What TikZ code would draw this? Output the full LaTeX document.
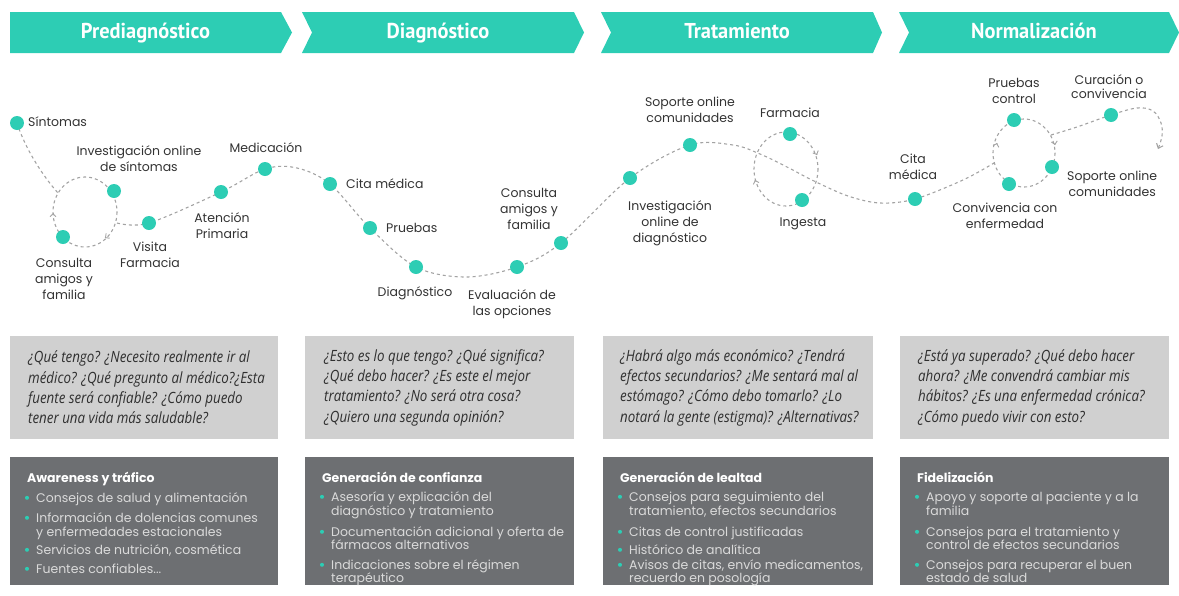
\documentclass[tikz,border=0pt]{standalone}
\usepackage{fontspec}
\setmainfont{Poppins}
\newfontfamily\popp{Poppins}
\newfontfamily\banf[FakeStretch=0.95]{PT Sans}
\newfontfamily\qf[FakeStretch=0.86]{Open Sans}
\usetikzlibrary{arrows.meta}
\definecolor{teal1}{HTML}{2DCDB4}
\definecolor{lbox}{HTML}{D0D0D0}
\definecolor{dbox}{HTML}{6D6F72}
\definecolor{dash1}{HTML}{A3A3A3}
\definecolor{lbl}{HTML}{333333}
\definecolor{qtxt}{HTML}{2F2F2F}
\definecolor{itxt}{HTML}{DADADA}
\pgfdeclarelayer{bg}\pgfsetlayers{bg,main}
\newcommand\bitem[4]{\node[bul] (#1b) at (#2-9,#3-4.2) {};\node[itm] (#1) at (#2,#3) {#4};}
\newcommand\citem[4]{\node[itm] (#1) at (#2,#3) {#4};}
\begin{document}
\begin{tikzpicture}[x=1pt,y=-1pt,
  dot/.style={circle,fill=teal1,minimum size=14pt,inner sep=0pt},
  lab/.style={font=\popp\fontsize{12.5}{16}\selectfont,text=lbl,align=center,inner sep=0pt},
  journey/.style={draw=dash1,line width=1.1pt,dash pattern=on 3pt off 3pt},
  tk/.style={draw=dash1,line width=0.9pt,-{Straight Barb[length=3pt,width=6pt]}},
  bantext/.style={font=\banf\bfseries\fontsize{21.5}{24}\selectfont,text=white,anchor=base,inner sep=0pt},
  qtext/.style={font=\qf\itshape\fontsize{15.5}{20.3}\selectfont,text=qtxt,align=left,anchor=west,inner sep=0pt},
  ttl/.style={font=\popp\bfseries\fontsize{12.5}{14}\selectfont,text=white,anchor=base west,inner sep=0pt},
  itm/.style={font=\popp\fontsize{12.5}{14}\selectfont,text=itxt,anchor=base west,inner sep=0pt},
  bul/.style={circle,fill=teal1,minimum size=4pt,inner sep=0pt}
]
\useasboundingbox (0,0) rectangle (1179,595);
% banners
\fill[teal1] (10,12) -- (281,12) -- (292,32.5) -- (281,53) -- (10,53) -- cycle;
\fill[teal1] (302,12) -- (574,12) -- (584,32.5) -- (574,53) -- (302,53) -- (312,32.5) -- cycle;
\fill[teal1] (601,12) -- (873,12) -- (882,32.5) -- (873,53) -- (601,53) -- (611,32.5) -- cycle;
\fill[teal1] (899,12) -- (1169,12) -- (1179,32.5) -- (1169,53) -- (899,53) -- (909,32.5) -- cycle;
\node[bantext] (b1) at (145.5,38.5) {Prediagnóstico};
\node[bantext] (b2) at (438,38.5) {Diagnóstico};
\node[bantext] (b3) at (737,38.5) {Tratamiento};
\node[bantext] (b4) at (1034,38.5) {Normalización};
% dots
\node[dot] (s1) at (17,123) {};
\node[dot] (s2) at (114,191) {};
\node[dot] (s3) at (63,237) {};
\node[dot] (s4) at (149,223) {};
\node[dot] (s5) at (221,192) {};
\node[dot] (s6) at (265,169) {};
\node[dot] (s7) at (330,184) {};
\node[dot] (s8) at (370,228) {};
\node[dot] (s9) at (416,267) {};
\node[dot] (s10) at (517,267) {};
\node[dot] (s11) at (561,243) {};
\node[dot] (s12) at (630,178) {};
\node[dot] (s13) at (690,145) {};
\node[dot] (s14) at (790,134) {};
\node[dot] (s15) at (802,200) {};
\node[dot] (s16) at (915,199) {};
\node[dot] (s17) at (1014,120) {};
\node[dot] (s18) at (1009,184) {};
\node[dot] (s19) at (1052,167) {};
\node[dot] (s20) at (1111,115) {};
% labels
\node[lab,anchor=west] (l1) at (28,122) {Síntomas};
\node[lab] (l2) at (139,158.5) {Investigación online\\de síntomas};
\node[lab] (l3) at (64,279) {Consulta\\amigos y\\familia};
\node[lab] (l4) at (150,255) {Visita\\Farmacia};
\node[lab] (l5) at (222,225.5) {Atención\\Primaria};
\node[lab] (l6) at (266,148) {Medicación};
\node[lab,anchor=west] (l7) at (346,184) {Cita médica};
\node[lab,anchor=west] (l8) at (386,228) {Pruebas};
\node[lab] (l9) at (415,293) {Diagnóstico};
\node[lab] (l10) at (512,304.5) {Evaluación de\\las opciones};
\node[lab] (l11) at (529,209) {Consulta\\amigos y\\familia};
\node[lab] (l12) at (670,223) {Investigación\\online de\\diagnóstico};
\node[lab] (l13) at (690,110) {Soporte online\\comunidades};
\node[lab] (l14) at (790,113) {Farmacia};
\node[lab] (l15) at (803,224) {Ingesta};
\node[lab] (l16) at (913,167) {Cita\\médica};
\node[lab] (l17) at (1014,91) {Pruebas\\control};
\node[lab] (l18) at (1005,216) {Convivencia con\\enfermedad};
\node[lab,anchor=west] (l19) at (1067,183.5) {Soporte online\\comunidades};
\node[lab,font=\popp\fontsize{12.5}{14}\selectfont] (l20) at (1109,86.5) {Curación o\\convivencia};
% journey path
\begin{pgfonlayer}{bg}
\draw[journey] (s1.center) .. controls (25,148) and (42,175) .. (58,193);
\draw[journey] (85,212) ellipse [x radius=32, y radius=35];
\draw[journey] plot[smooth,tension=0.55] coordinates {(117,223) (s4.center) (s5.center) (s6.center) (297,168) (s7.center) (s8.center) (s9.center) (466,277) (s10.center) (s11.center) (s12.center) (s13.center) (733,145) (760,154) (787,167) (814,181) (848,196) (880,203) (s16.center) (963,180) (994,163)};
\draw[journey] (786,169) ellipse [x radius=32, y radius=37];
\draw[journey] (1024,153) ellipse [x radius=31, y radius=34];
\draw[journey,-{Straight Barb[length=4pt,width=7pt]}] plot[smooth,tension=0.6] coordinates {(1051,135) (1077,127) (s20.center) (1137,108) (1153,111) (1161,123) (1162,136) (1158,149)};
% direction ticks on the loops
\draw[tk] (53,213.1) -- (53,213);
\draw[tk] (105.08,237.94) -- (105,238);
\draw[tk] (755.03,180.09) -- (755,180);
\draw[tk] (816.96,154.91) -- (817,155);
\draw[tk] (996.97,143.1) -- (997,143);
\draw[tk] (1054.98,144.9) -- (1055,145);
\end{pgfonlayer}
% question boxes
\fill[lbox] (10,336) rectangle (278,439);
\fill[lbox] (305,336) rectangle (574,439);
\fill[lbox] (603,336) rectangle (873,439);
\fill[lbox] (900,336) rectangle (1169,439);
\node[qtext] (q1) at (28,387.5) {¿Qué tengo? ¿Necesito realmente ir al\\médico? ¿Qué pregunto al médico?¿Esta\\fuente será confiable? ¿Cómo puedo\\tener una vida más saludable?};
\node[qtext] (q2) at (324,387.5) {¿Esto es lo que tengo? ¿Qué significa?\\¿Qué debo hacer? ¿Es este el mejor\\tratamiento? ¿No será otra cosa?\\¿Quiero una segunda opinión?};
\node[qtext] (q3) at (620,387.5) {¿Habrá algo más económico? ¿Tendrá\\efectos secundarios? ¿Me sentará mal al\\estómago? ¿Cómo debo tomarlo? ¿Lo\\notará la gente (estigma)? ¿Alternativas?};
\node[qtext] (q4) at (918,387.5) {¿Está ya superado? ¿Qué debo hacer\\ahora? ¿Me convendrá cambiar mis\\hábitos? ¿Es una enfermedad crónica?\\¿Cómo puedo vivir con esto?};
% dark boxes
\fill[dbox] (10,457) rectangle (278,585);
\fill[dbox] (305,457) rectangle (574,585);
\fill[dbox] (603,457) rectangle (873,585);
\fill[dbox] (900,457) rectangle (1169,585);
\node[ttl] (t1) at (27,482) {Awareness y tráfico};
\bitem{a1}{36}{502}{Consejos de salud y alimentación}
\bitem{a2}{36}{522}{Información de dolencias comunes}
\citem{a2c}{36}{536}{y enfermedades estacionales}
\bitem{a3}{36}{554}{Servicios de nutrición, cosmética}
\bitem{a4}{36}{573}{Fuentes confiables...}
\node[ttl] (t2) at (322,482) {Generación de confianza};
\bitem{g1}{331}{501}{Asesoría y explicación del}
\citem{g1c}{331}{515}{diagnóstico y tratamiento}
\bitem{g2}{331}{536}{Documentación adicional y oferta de}
\citem{g2c}{331}{549}{fármacos alternativos}
\bitem{g3}{331}{569}{Indicaciones sobre el régimen}
\citem{g3c}{331}{582}{terapéutico}
\node[ttl] (t3) at (620,482) {Generación de lealtad};
\bitem{h1}{629}{501}{Consejos para seguimiento del}
\citem{h1c}{629}{515}{tratamiento, efectos secundarios}
\bitem{h2}{629}{536}{Citas de control justificadas}
\bitem{h3}{629}{554}{Histórico de analítica}
\bitem{h4}{629}{569}{Avisos de citas, envío medicamentos,}
\citem{h4c}{629}{582}{recuerdo en posología}
\node[ttl] (t4) at (917,482) {Fidelización};
\bitem{f1}{926}{501}{Apoyo y soporte al paciente y a la}
\citem{f1c}{926}{515}{familia}
\bitem{f2}{926}{536}{Consejos para el tratamiento y}
\citem{f2c}{926}{549}{control de efectos secundarios}
\bitem{f3}{926}{569}{Consejos para recuperar el buen}
\citem{f3c}{926}{582}{estado de salud}
\end{tikzpicture}
\end{document}
